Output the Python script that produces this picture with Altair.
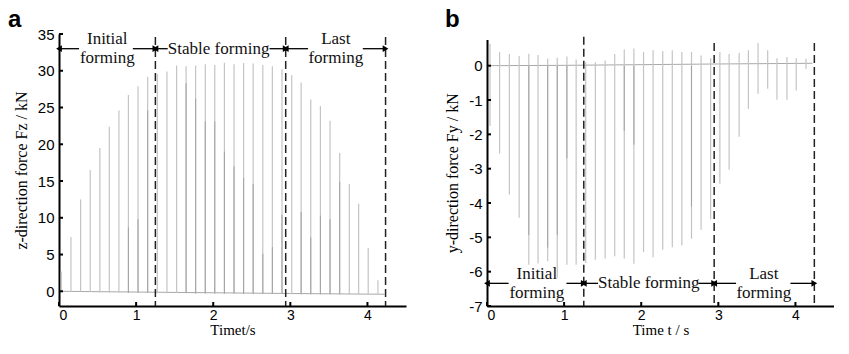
import altair as alt
import pandas as pd

# ---------------- data ----------------
# panel a : z-direction force (kN)
left_t = [0.03, 0.155, 0.28, 0.405, 0.53, 0.652, 0.777, 0.90, 1.025, 1.15, 1.275, 1.40,
          1.525, 1.648, 1.772, 1.897, 2.02, 2.145, 2.27, 2.394, 2.518, 2.643, 2.767, 2.892,
          3.018, 3.14, 3.265, 3.39, 3.515, 3.64, 3.765, 3.886, 4.01, 4.136]
left_peak = [2.7, 7.4, 12.5, 16.5, 19.5, 22.4, 24.6, 26.7, 27.9, 29.2, 29.6, 29.9,
             30.7, 30.6, 30.7, 30.9, 30.8, 31.1, 30.9, 31.05, 31.0, 30.8, 30.6, 30.2,
             29.4, 28.4, 26.1, 25.2, 23.2, 18.8, 14.6, 11.9, 5.9, 1.5]
left_sec = [None, None, None, None, None, None, None, 8.7, 9.8, 24.6, None, None,
            None, 28.3, 26.2, 23.1, 23.1, 19.0, 17.0, 15.4, 14.6, 5.1, 6.0, 10.4,
            None, 10.8, 7.3, 10.3, 9.8, 14.9, None, None, None, None]
left_floor = [0.0, -0.1, -0.1, -0.1, -0.15, -0.15, -0.15, -0.2, -0.2, -0.2, -0.25, -0.25,
              -0.25, -0.25, -0.3, -0.3, -0.3, -0.3, -0.3, -0.35, -0.35, -0.35, -0.35, -0.35,
              -0.4, -0.4, -0.4, -0.4, -0.4, -0.4, -0.45, -0.45, -0.45, -0.45]
left_base_t = [0.0, 1.0, 2.0, 3.0, 4.22]
left_base_v = [0.0, -0.1, -0.2, -0.3, -0.4]
left_bounds = [1.25, 2.94, 4.235]
left_bound_top = [34.6, 34.6, 34.6]

# panel b : y-direction force (kN)
right_t = [0.039, 0.163, 0.29, 0.417, 0.542, 0.662, 0.787, 0.911, 1.036, 1.156, 1.28, 1.405,
           1.532, 1.656, 1.78, 1.905, 2.03, 2.154, 2.279, 2.403, 2.527, 2.652, 2.776, 2.90,
           3.02, 3.14, 3.27, 3.39, 3.515, 3.64, 3.76, 3.89, 4.01, 4.137]
right_min = [-1.76, -2.56, -3.75, -4.43, -5.8, -5.76, -5.7, -6.18, -5.8, -5.8, -5.75, -5.65,
             -5.62, -5.55, -5.62, -5.77, -5.43, -5.58, -5.36, -5.29, -5.24, -5.04, -4.78, -4.47,
             -3.44, -3.03, -2.07, -1.26, -0.82, -0.67, -0.99, -0.99, -0.72, -0.1]
right_max = [0.64, 0.4, 0.34, 0.28, 0.35, 0.31, 0.21, 0.23, 0.27, 0.18, 0.1, 0.1,
             0.15, 0.34, 0.47, 0.5, 0.4, 0.45, 0.43, 0.45, 0.4, 0.4, 0.3, 0.22,
             0.4, 0.34, 0.37, 0.45, 0.66, 0.45, 0.22, 0.25, 0.22, 0.2]
right_sec = [None, None, None, None, -4.93, None, -5.3, -4.93, -2.7, None, None, None,
             None, None, -1.9, -2.3, None, None, None, None, None, -4.1, None, None,
             None, None, None, None, None, None, None, None, None, None]
right_sec_ref = [0.0] * 34
right_base_t = [0.0, 1.0, 2.0, 3.0, 4.22]
right_base_v = [0.0, 0.01, 0.03, 0.05, 0.07]
right_bounds = [1.255, 2.946, 4.245]
right_bound_top = [0.84, 0.66, 0.66]

x_ticks = [0, 1, 2, 3, 4]
left_y_ticks = [0, 5, 10, 15, 20, 25, 30, 35]
right_y_ticks = [-7, -6, -5, -4, -3, -2, -1, 0]

two_line_labels = ["Initial\nforming", "Last\nforming"]
one_line_labels = ["Stable forming"]
left_two_t = [0.626, 3.59]
left_one_t = [2.07]
right_two_t = [0.646, 3.59]
right_one_t = [2.097]
left_arrow_y = 33.0
right_arrow_y = -6.34
left_arrow_from = [0.0, 0.957, 1.25, 2.73, 2.94, 3.94]
left_arrow_to = [0.26, 1.25, 1.41, 2.94, 3.23, 4.235]
right_arrow_from = [0.0, 1.03, 1.255, 2.74, 2.946, 3.935]
right_arrow_to = [0.28, 1.255, 1.44, 2.946, 3.23, 4.245]
left_heads = [0.0, 1.25, 1.25, 2.94, 2.94, 4.235]
right_heads = [0.0, 1.255, 1.255, 2.946, 2.946, 4.245]
head_dir = ["L", "R", "L", "R", "L", "R"]

SPIKE = "#c4c4c4"
SPIKE2 = "#a2a2a2"
W, H = 347, 272


def panel(letter, t, top, bottom_ref, sec, sec_ref, base_t, base_v, bounds, btop, ydom,
          ytop_px, yticks, ytitle, xtitle, two_t, one_t, arrow_y, a_from, a_to, heads,
          letter_dx):
    xs = alt.Scale(domain=[0, 4.5], nice=False, zero=False)
    ys = alt.Scale(domain=ydom, range=[H, ytop_px], nice=False, zero=False)
    xaxis = alt.Axis(values=x_ticks, title=xtitle, ticks=False, grid=False,
                     labelExpr="'' + datum.value")
    yaxis = alt.Axis(values=yticks, title=ytitle, ticks=False, grid=False,
                     labelExpr="'' + datum.value")

    def X(f):
        return alt.X(f, type="quantitative", scale=xs, axis=xaxis)

    def Y(f):
        return alt.Y(f, type="quantitative", scale=ys, axis=yaxis)

    def YD(v):
        return alt.Y(datum=v, type="quantitative", scale=ys, axis=yaxis)

    spikes = pd.DataFrame({"t": t, "top": top, "bot": bottom_ref, "sec": sec, "sref": sec_ref})
    base = pd.DataFrame({"t": base_t, "v": base_v})
    bnd = pd.DataFrame({"t": bounds, "top": btop})
    arr = pd.DataFrame({"a": a_from, "b": a_to})
    hd = pd.DataFrame({"t": heads, "d": head_dir})
    lab2 = pd.DataFrame({"t": two_t, "label": two_line_labels})
    lab1 = pd.DataFrame({"t": one_t, "label": one_line_labels})
    xt = pd.DataFrame({"t": x_ticks})
    yt = pd.DataFrame({"v": yticks})
    let = pd.DataFrame({"letter": [letter]})

    txt = dict(font="Liberation Serif", fontSize=17, lineBreak="\n", lineHeight=19,
               color="#111", baseline="middle")
    layers = [
        alt.Chart(base).mark_line(color="#a8a8a8", strokeWidth=1).encode(x=X("t"), y=Y("v")),
        alt.Chart(spikes).mark_rule(color=SPIKE, strokeWidth=1.2).encode(
            x=X("t"), y=Y("top"), y2="bot"),
        alt.Chart(spikes).transform_filter("isValid(datum.sec)").mark_rule(
            color=SPIKE2, strokeWidth=1.0).encode(x=X("t"), y=Y("sec"), y2="sref"),
        alt.Chart(bnd).mark_rule(color="#222222", strokeWidth=1.5, strokeDash=[8, 4]).encode(
            x=X("t"), y=Y("top"), y2=alt.datum(ydom[0])),
        alt.Chart(arr).mark_rule(color="black", strokeWidth=1.3).encode(
            x=X("a"), x2="b", y=YD(arrow_y)),
        alt.Chart(hd).mark_point(filled=True, color="black", size=45, opacity=1).encode(
            x=X("t"), y=YD(arrow_y),
            shape=alt.Shape("d:N", scale=alt.Scale(domain=["L", "R"],
                                                    range=["triangle-left", "triangle-right"]),
                            legend=None)),
        alt.Chart(lab2).mark_text(dy=-9.5, **txt).encode(x=X("t"), y=YD(arrow_y), text="label:N"),
        alt.Chart(lab1).mark_text(**txt).encode(x=X("t"), y=YD(arrow_y), text="label:N"),
        alt.Chart(xt).mark_rule(color="black", strokeWidth=2).encode(
            x=X("t"), y=alt.value(H), y2=alt.value(H - 4)),
        alt.Chart(yt).mark_rule(color="black", strokeWidth=2).encode(
            y=Y("v"), x=alt.value(0), x2=alt.value(4)),
        alt.Chart(let).mark_text(font="Liberation Sans", fontSize=24, fontWeight="bold",
                                 align="left", baseline="alphabetic", color="black").encode(
            x=alt.value(letter_dx), y=alt.value(-7), text="letter:N"),
    ]
    return alt.layer(*layers).properties(width=W, height=H)


left = panel("a", left_t, left_peak, left_floor, left_sec, left_floor, left_base_t, left_base_v,
             left_bounds, left_bound_top, [-2, 35], 0, left_y_ticks,
             "z-direction force Fz / kN", "Timet/s", left_two_t, left_one_t, left_arrow_y,
             left_arrow_from, left_arrow_to, left_heads, -51)
right = panel("b", right_t, right_min, right_max, right_sec, right_sec_ref,
              right_base_t, right_base_v,
              right_bounds, right_bound_top, [-7, 0.76], 5.6, right_y_ticks,
              "y-direction force Fy / kN", "Time  t / s", right_two_t, right_one_t,
              right_arrow_y, right_arrow_from, right_arrow_to, right_heads, -42)

chart = alt.hconcat(left, right, spacing=38).configure_view(stroke=None).configure_axis(
    domainColor="black", domainWidth=2, labelFont="Liberation Sans", labelFontSize=15,
    labelColor="black", labelPadding=5, titleFont="Liberation Serif", titleFontSize=16,
    titleFontWeight="normal", titleColor="black", titlePadding=8
).configure_axisX(titlePadding=0, labelPadding=2, labelFontSize=14, titleFontSize=15).properties(
    padding={"left": 0, "top": 0, "right": 0, "bottom": 0})

chart.save("out.html", embed_options={"renderer": "svg", "actions": False})
